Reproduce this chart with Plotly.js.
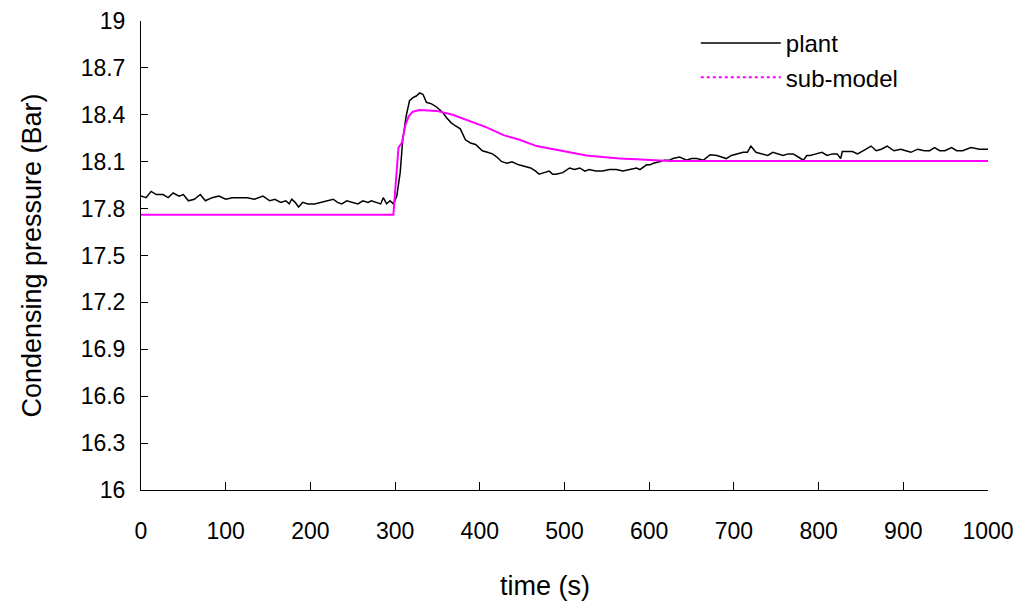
<!DOCTYPE html>
<html>
<head>
<meta charset="utf-8">
<script src="https://cdn.plot.ly/plotly-3.0.1.min.js"></script>
<style>html,body{margin:0;padding:0;background:#fff}#chart{width:1023px;height:604px}</style>
</head>
<body>
<div id="chart"></div>
<script>
const plantTime = [0,6,12,18,26,32,38,45,50,56,63,70,76,84,92,100,108,116,125,134,144,152,158,165,171,175,178,182,186,191,197,205,213,220,227,232,237,243,250,256,262,268,272,279,283,286,290,294,298,302,306,309,313,317,321,325,329,333,337,343,349,353,357,361,366,371,377,383,389,395,399,403,409,415,420,426,432,438,446,454,460,466,470,476,482,486,490,498,506,512,518,524,529,537,545,553,561,569,577,585,589,597,601,605,612,618,624,628,636,644,650,656,664,672,680,691,697,703,711,716,720,726,732,740,746,752,758,764,770,776,782,786,790,797,804,810,816,822,826,828,834,840,846,850,856,862,868,874,881,889,897,903,909,917,925,931,937,943,949,957,963,970,980,990,1000];
const plantPressure = [17.88,17.87,17.91,17.89,17.89,17.87,17.90,17.88,17.89,17.85,17.86,17.89,17.85,17.87,17.88,17.86,17.87,17.87,17.87,17.86,17.88,17.85,17.86,17.84,17.85,17.83,17.86,17.84,17.81,17.84,17.83,17.83,17.84,17.85,17.86,17.84,17.83,17.85,17.84,17.83,17.85,17.84,17.85,17.84,17.83,17.87,17.83,17.85,17.83,17.88,18.03,18.24,18.39,18.49,18.51,18.52,18.54,18.53,18.48,18.47,18.45,18.43,18.41,18.38,18.35,18.33,18.31,18.24,18.22,18.21,18.19,18.17,18.16,18.15,18.13,18.10,18.09,18.10,18.08,18.07,18.06,18.04,18.02,18.03,18.04,18.02,18.02,18.03,18.06,18.05,18.06,18.04,18.05,18.04,18.04,18.05,18.05,18.04,18.05,18.06,18.05,18.08,18.08,18.09,18.10,18.11,18.11,18.12,18.13,18.11,18.12,18.12,18.11,18.145,18.14,18.12,18.14,18.15,18.16,18.16,18.20,18.16,18.15,18.14,18.16,18.15,18.14,18.15,18.15,18.13,18.11,18.14,18.14,18.15,18.16,18.14,18.15,18.15,18.12,18.165,18.165,18.165,18.15,18.16,18.18,18.20,18.17,18.18,18.20,18.17,18.18,18.17,18.16,18.18,18.17,18.17,18.19,18.17,18.17,18.19,18.17,18.17,18.19,18.18,18.18];

const subTime = [0,298,299,302,304,308,312,316,321,329,349,368,388,408,428,447,467,487,506,526,545,565,585,605,624,1000];
const subPressure = [17.76,17.76,17.835,18.03,18.19,18.22,18.33,18.39,18.42,18.43,18.425,18.40,18.36,18.32,18.27,18.24,18.20,18.18,18.16,18.14,18.13,18.12,18.115,18.11,18.105,18.105];

const seriesNames = ['plant', 'sub-model'];
const yTickVals = [16,16.3,16.6,16.9,17.2,17.5,17.8,18.1,18.4,18.7,19];
const yTickText = ['16','16.3','16.6','16.9','17.2','17.5','17.8','18.1','18.4','18.7','19'];
const xTickVals = [0,100,200,300,400,500,600,700,800,900,1000];
const xTitle = 'time (s)';
const yTitle = 'Condensing pressure (Bar)';

const font = 'Liberation Sans, Arial, sans-serif';

const traces = [
  {x: plantTime, y: plantPressure, type: 'scatter', mode: 'lines', name: seriesNames[0],
   line: {color: '#000000', width: 1.5}},
  {x: subTime, y: subPressure, type: 'scatter', mode: 'lines', name: seriesNames[1],
   showlegend: false, legendgroup: 'sub',
   line: {color: '#FF00FF', width: 2}},
  {x: [null], y: [null], type: 'scatter', mode: 'lines', name: seriesNames[1], legendgroup: 'sub',
   line: {color: '#FF00FF', width: 2, dash: 'dot'}}
];

const layout = {
  width: 1023, height: 604,
  margin: {l: 141, r: 35, t: 21, b: 114},
  paper_bgcolor: '#fff', plot_bgcolor: '#fff',
  font: {family: font, color: '#000', size: 23},
  showlegend: true,
  legend: {x: 0.655, y: 1.0, xanchor: 'left', yanchor: 'top', bgcolor: 'rgba(0,0,0,0)',
           font: {family: font, size: 24, color: '#000'}, itemwidth: 80, tracegroupgap: 0},
  xaxis: {range: [0, 1000], tickvals: xTickVals, ticks: 'inside', ticklen: 8, tickcolor: '#000',
          showline: true, linecolor: '#000', linewidth: 1, showgrid: false, zeroline: false,
          ticklabelstandoff: 20, tickfont: {family: font, size: 23}},
  yaxis: {range: [16, 19], tickvals: yTickVals, ticktext: yTickText, ticks: 'inside', ticklen: 7, tickcolor: '#000',
          showline: true, linecolor: '#000', linewidth: 1, showgrid: false, zeroline: false,
          ticklabelstandoff: 10, tickfont: {family: font, size: 23},
          title: {text: yTitle, font: {family: font, size: 27}, standoff: 31}},
  annotations: [
    {text: xTitle, xref: 'paper', yref: 'paper', x: 0.477, y: -0.205, xanchor: 'center', yanchor: 'middle',
     showarrow: false, font: {family: font, size: 27, color: '#000'}}
  ]
};

Plotly.newPlot('chart', traces, layout, {staticPlot: true, displayModeBar: false});
</script>
</body>
</html>
